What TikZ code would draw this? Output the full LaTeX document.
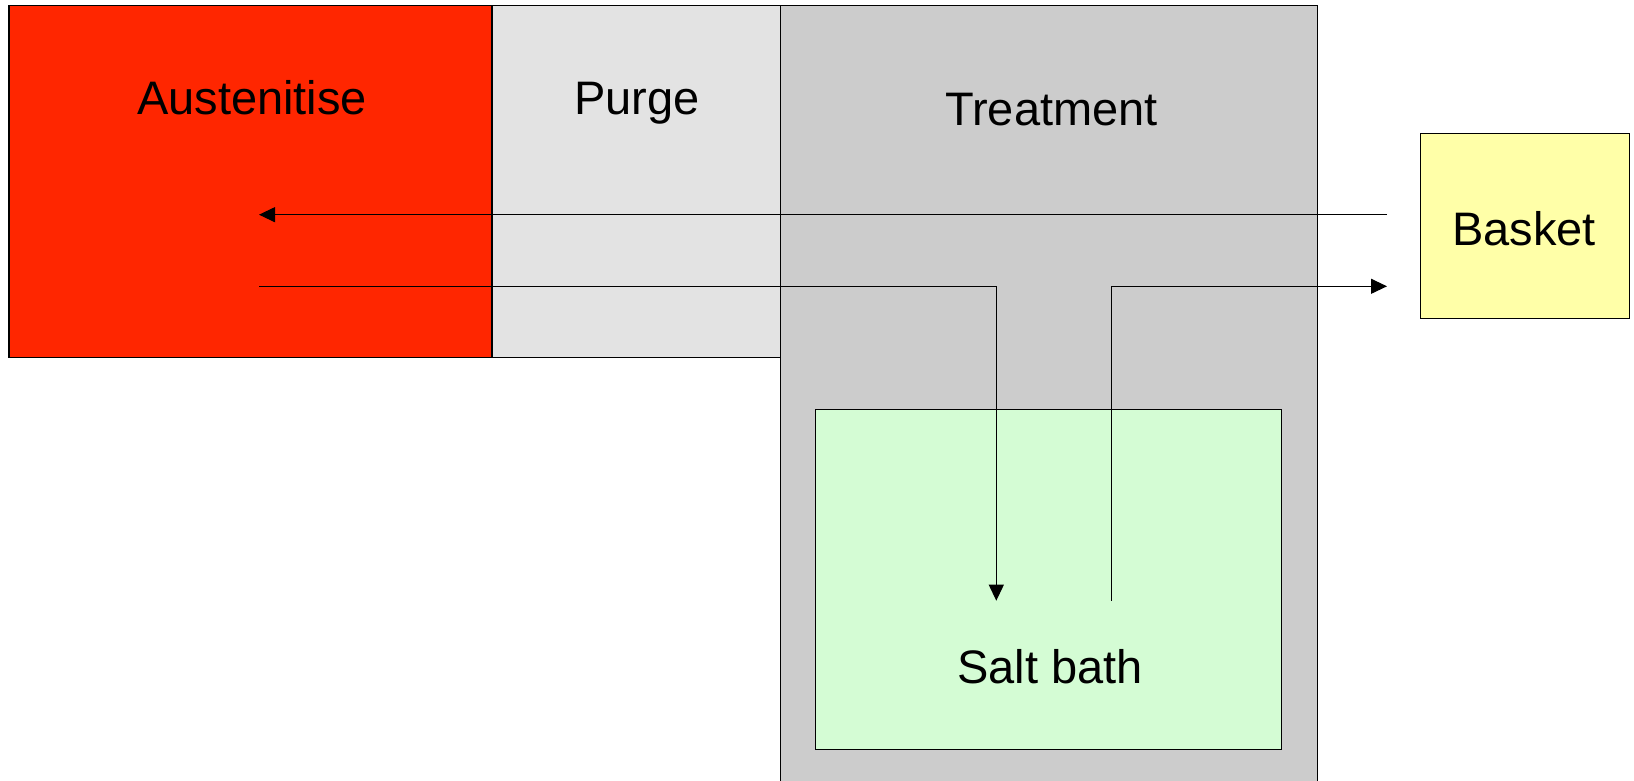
\documentclass[tikz,border=0pt]{standalone}
\usepackage{fontspec}
\setmainfont{Liberation Sans}
\usetikzlibrary{arrows.meta}
\definecolor{austred}{HTML}{FF2600}
\definecolor{purgegray}{HTML}{E3E3E3}
\definecolor{treatgray}{HTML}{CCCCCC}
\definecolor{basketyellow}{HTML}{FFFFA8}
\definecolor{saltgreen}{HTML}{D4FCD4}
\tikzset{
  box/.style={draw=black, line width=0.55pt, anchor=north west, inner sep=0pt, outer sep=0pt},
  lbl/.style={anchor=base, inner sep=0pt, font=\fontsize{23.5pt}{28pt}\selectfont},
  conn/.style={draw=black, line width=0.6pt},
  tip/.style={-{Triangle[length=8pt,width=7.5pt]}}
}
\begin{document}
\begin{tikzpicture}[x=0.5pt,y=-0.5pt]
\useasboundingbox (0,0) rectangle (1634,781);
\clip (0,0) rectangle (1634,781);
% boxes
\node[box, fill=treatgray, minimum width=268.4pt, minimum height=400pt] (treat) at (780.6,5.7) {};
\node[box, fill=austred, minimum width=241.5pt, minimum height=175.8pt] (aust) at (9,5.7) {};
\node[box, fill=purgegray, minimum width=144.3pt, minimum height=175.8pt] (purge) at (492,5.7) {};
\node[box, fill=basketyellow, minimum width=104.5pt, minimum height=92.8pt] (basket) at (1420.5,133.3) {};
\node[box, fill=saltgreen, minimum width=233pt, minimum height=170pt] (salt) at (815.7,409.3) {};
% labels
\node[lbl] (tAust) at (252,115) {Austenitise};
\node[lbl] (tPurge) at (637,115) {Purge};
\node[lbl] (tTreat) at (1051.5,126) {Treatment};
\node[lbl] (tBasket) at (1524,245) {Basket};
\node[lbl] (tSalt) at (1050,683.3) {Salt bath};
% connector coordinates
\coordinate (inA) at (1387,214.7);
\coordinate (inB) at (259,214.7);
\coordinate (outA) at (259,286.3);
\coordinate (outC) at (996.3,286.3);
\coordinate (outB) at (996.3,600.7);
\coordinate (upA) at (1111.7,600.7);
\coordinate (upC) at (1111.7,286.3);
\coordinate (upB) at (1387,286.3);
% connectors
\draw[conn, tip] (inA) -- (inB);
\draw[conn, tip] (outA) -- (outC) -- (outB);
\draw[conn, tip] (upA) -- (upC) -- (upB);
\end{tikzpicture}
\end{document}
